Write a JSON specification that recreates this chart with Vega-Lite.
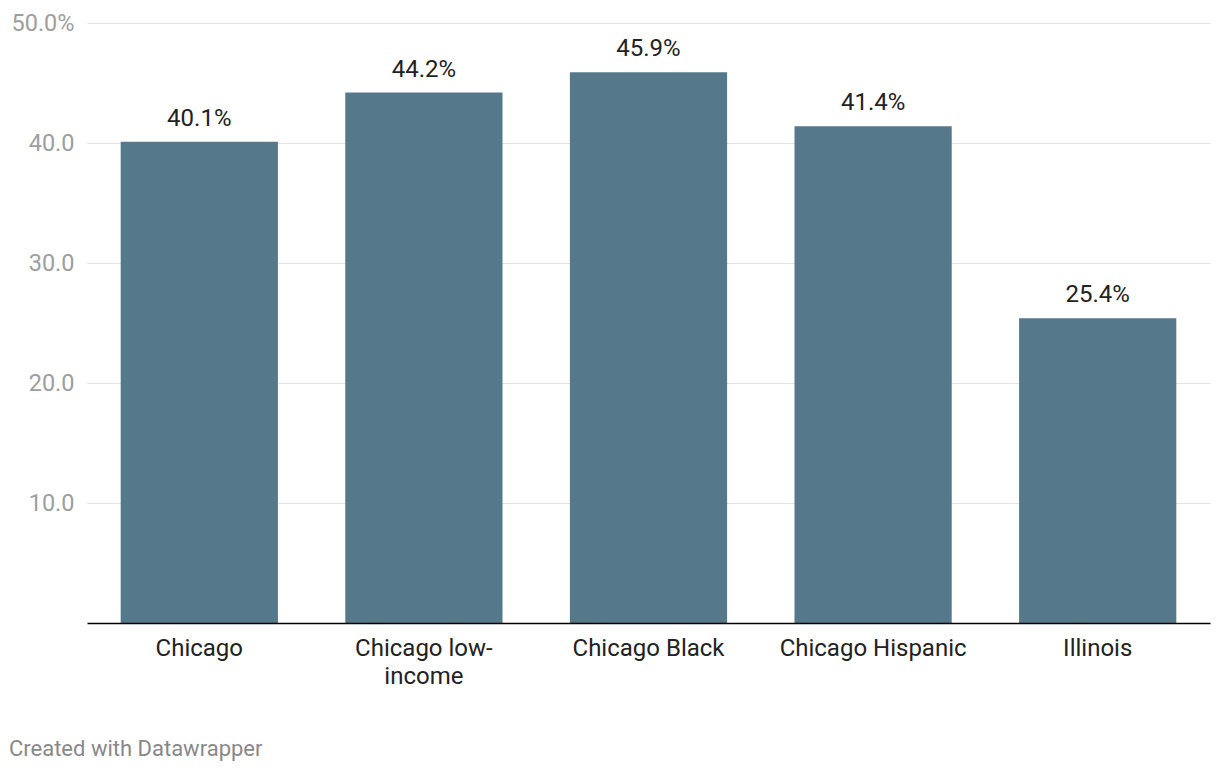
{
  "$schema": "https://vega.github.io/schema/vega-lite/v6.json",
  "autosize": {"type": "none"},
  "width": 1123,
  "height": 600,
  "padding": {"left": 87, "top": 23, "right": 10, "bottom": 149},
  "background": "#ffffff",
  "config": {
    "font": "Roboto",
    "view": {"stroke": null}
  },
  "title": {
    "text": "Created with Datawrapper",
    "orient": "bottom",
    "anchor": "start",
    "frame": "bounds",
    "fontSize": 22,
    "fontWeight": "normal",
    "color": "#888888",
    "font": "Roboto",
    "offset": 51,
    "dx": -2
  },
  "data": {
    "values": [
      {"group": "Chicago", "value": 40.1},
      {"group": "Chicago low-income", "value": 44.2},
      {"group": "Chicago Black", "value": 45.9},
      {"group": "Chicago Hispanic", "value": 41.4},
      {"group": "Illinois", "value": 25.4}
    ]
  },
  "transform": [
    {"calculate": "format(datum.value, '.1f') + '%'", "as": "label"}
  ],
  "encoding": {
    "x": {
      "field": "group",
      "type": "nominal",
      "sort": null,
      "scale": {"paddingInner": 0.3, "paddingOuter": 0.15},
      "axis": {
        "title": null,
        "labelAngle": 0,
        "labelFontSize": 24,
        "labelColor": "#222222",
        "labelPadding": 13,
        "labelLineHeight": 28,
        "labelBaseline": "top",
        "labelLimit": 0,
        "ticks": false,
        "domainColor": "#000000",
        "domainWidth": 1.6,
        "labelExpr": "datum.label == 'Chicago low-income' ? ['Chicago low-', 'income'] : datum.label",
        "zindex": 1
      }
    },
    "y": {
      "field": "value",
      "type": "quantitative",
      "scale": {"domain": [0, 50], "nice": false},
      "axis": {
        "title": null,
        "values": [10, 20, 30, 40, 50],
        "labelExpr": "datum.value == 50 ? format(datum.value, '.1f') + '%' : format(datum.value, '.1f')",
        "labelFontSize": 23.5,
        "labelColor": "#9e9e9e",
        "labelPadding": 13,
        "ticks": false,
        "domain": false,
        "gridColor": "#e3e3e3",
        "gridWidth": 1.2
      }
    }
  },
  "layer": [
    {
      "mark": {"type": "bar", "color": "#56788b"}
    },
    {
      "mark": {"type": "text", "baseline": "alphabetic", "dy": -16, "fontSize": 24, "color": "#222222", "font": "Roboto"},
      "encoding": {
        "text": {"field": "label", "type": "nominal"}
      }
    }
  ]
}
